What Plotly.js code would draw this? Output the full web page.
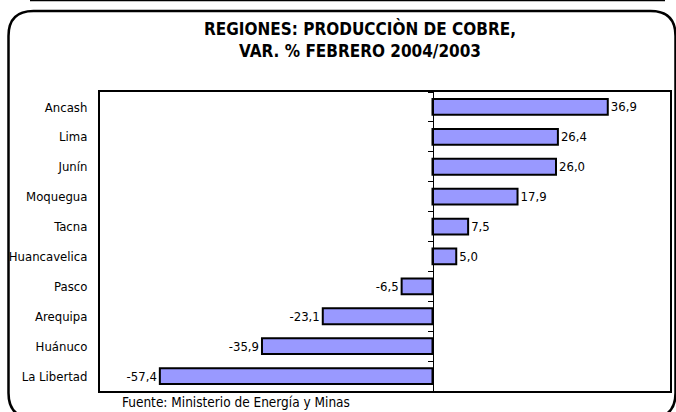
<!DOCTYPE html>
<html>
<head>
<meta charset="utf-8">
<script src="https://cdn.plot.ly/plotly-3.0.1.min.js"></script>
<style>html,body{margin:0;padding:0;background:#fff;}#chart{width:676px;height:412px;}</style>
</head>
<body>
<div id="chart"></div>
<script>
const regions = ["Ancash","Lima","Junín","Moquegua","Tacna","Huancavelica","Pasco","Arequipa","Huánuco","La Libertad"];
const values = [36.9, 26.4, 26.0, 17.9, 7.5, 5.0, -6.5, -23.1, -35.9, -57.4];
const labels = values.map(v => v.toFixed(1).replace('.', ','));
const titleText = "REGIONES: PRODUCCIÒN DE COBRE,<br>VAR. % FEBRERO 2004/2003";
const sourceText = "Fuente: Ministerio de Energía y Minas";

const W = 676, H = 412;
const M = {l: 100, r: 6, t: 92, b: 21};
const PW = W - M.l - M.r, PH = H - M.t - M.b;
const X = px => (px - M.l) / PW;
const Y = py => (H - M.b - py) / PH;
const P = (x, y) => X(x).toFixed(5) + ',' + Y(y).toFixed(5);

const FONT = '"Liberation Sans Narrow", "Arial Narrow", "DejaVu Sans Condensed", sans-serif';
const xMin = -70, xMax = 50;

// rounded frame path
const fl = 8.5, ft = 11, fr = 675.5, fb = 418, rad = 25;
const framePath = 'M ' + P(fl, fb - rad) + ' L ' + P(fl, ft + rad) + ' Q ' + P(fl, ft) + ' ' + P(fl + rad, ft) +
  ' L ' + P(fr - rad, ft) + ' Q ' + P(fr, ft) + ' ' + P(fr, ft + rad) +
  ' L ' + P(fr, fb - rad) + ' Q ' + P(fr, fb) + ' ' + P(fr - rad, fb) +
  ' L ' + P(fl + rad, fb) + ' Q ' + P(fl, fb) + ' ' + P(fl, fb - rad) + ' Z';

const traces = [
  {
    type: 'bar', orientation: 'h', y: regions, x: values,
    text: labels, textposition: 'outside', cliponaxis: false,
    textfont: {family: FONT, size: 13, color: '#000'},
    marker: {color: '#9999FF', line: {color: '#000', width: 2}},
    width: 0.53, hoverinfo: 'x+y'
  },
  {
    type: 'bar', orientation: 'h', y: regions, x: values.map(() => 0),
    yaxis: 'y2', marker: {color: 'rgba(0,0,0,0)'}, hoverinfo: 'skip', showlegend: false
  }
];

const layout = {
  width: W, height: H,
  margin: M,
  paper_bgcolor: '#fff', plot_bgcolor: '#fff',
  showlegend: false,
  font: {family: FONT, color: '#000', size: 13},
  title: {
    text: titleText, x: 360 / W, xanchor: 'center', y: 1 - 35 / H, yanchor: 'middle',
    font: {family: FONT, size: 17, color: '#000', weight: 'bold'}
  },
  xaxis: {
    range: [xMin, xMax], showgrid: false, zeroline: false, showticklabels: false,
    ticks: '', showline: true, mirror: true, linecolor: '#000', linewidth: 2, fixedrange: true
  },
  yaxis: {
    type: 'category', autorange: 'reversed', showgrid: false, zeroline: false,
    ticks: '', showline: true, mirror: true, linecolor: '#000', linewidth: 2,
    ticklabelstandoff: 8, tickfont: {family: FONT, size: 13, color: '#000'}
  },
  yaxis2: {
    type: 'category', overlaying: 'y', matches: 'y', anchor: 'free',
    position: (0 - xMin) / (xMax - xMin), side: 'left',
    showgrid: false, zeroline: false, showticklabels: false,
    showline: true, linecolor: '#000', linewidth: 1,
    ticks: 'outside', ticklen: 5, tickwidth: 1, tickcolor: '#000', tickson: 'boundaries'
  },
  annotations: [
    {
      text: sourceText, xref: 'paper', yref: 'paper', x: X(120), y: Y(402),
      xanchor: 'left', yanchor: 'middle', showarrow: false,
      font: {family: FONT, size: 13.5, color: '#000'}
    }
  ],
  shapes: [
    {type: 'path', xref: 'paper', yref: 'paper', path: framePath, line: {color: '#000', width: 2.5}, layer: 'below'},
    {type: 'line', xref: 'paper', yref: 'paper', x0: X(30), x1: X(665), y0: Y(0.5), y1: Y(0.5), line: {color: '#000', width: 1.5}}
  ],
  bargap: 0.47
};

Plotly.newPlot('chart', traces, layout, {displayModeBar: false, staticPlot: true});
</script>
</body>
</html>
